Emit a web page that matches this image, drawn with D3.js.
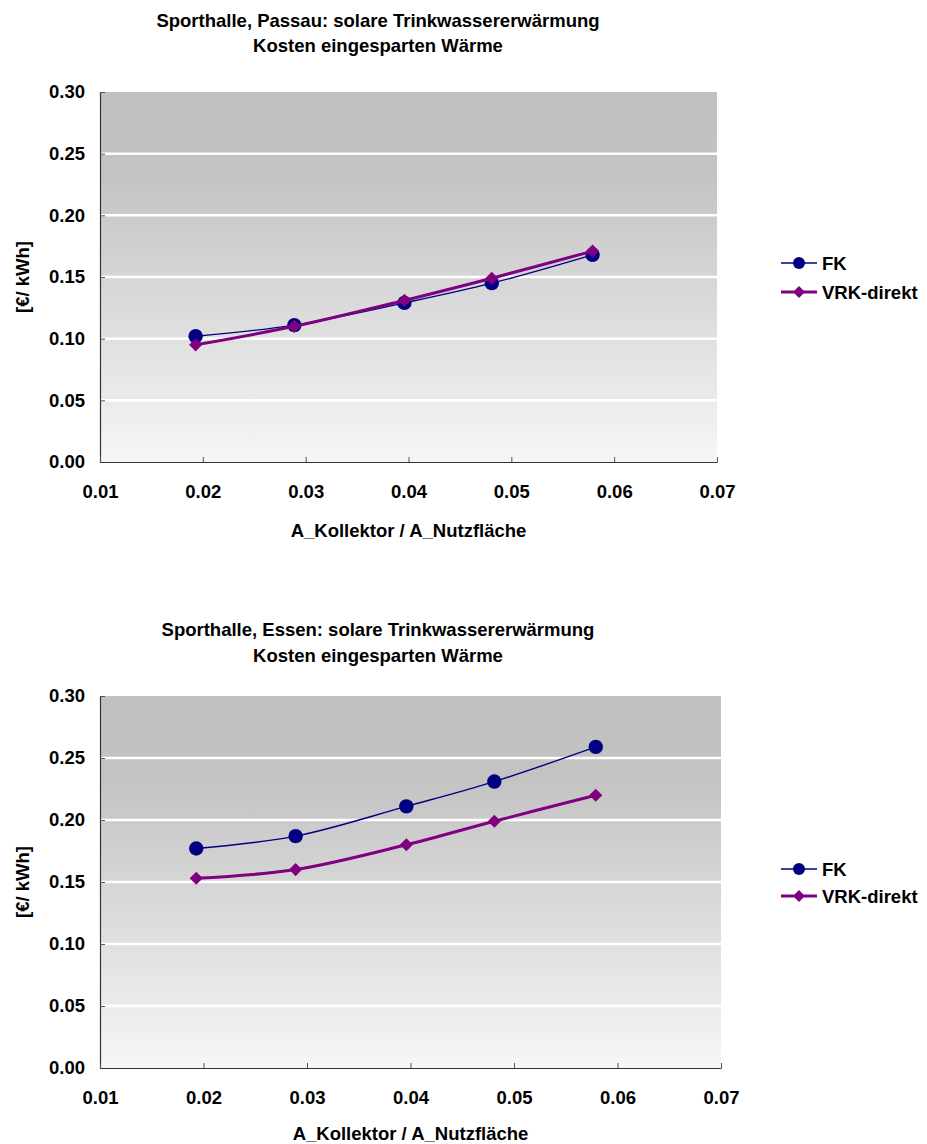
<!DOCTYPE html>
<html>
<head>
<meta charset="utf-8">
<script src="https://cdn.jsdelivr.net/npm/d3@7"></script>
<style>
  html, body { margin: 0; padding: 0; background: #ffffff; }
  svg text { font-family: "Liberation Sans", Arial, sans-serif; font-weight: bold; fill: #000; }
</style>
</head>
<body>
<svg id="chart" width="927" height="1144"></svg>
<script>
// Collector-to-floor area ratio for the five system sizes
const areaRatio = [0.0193, 0.0289, 0.0396, 0.0481, 0.0579];

// Cost of saved heat [€/kWh], Passau
const passauFK  = [0.102, 0.111, 0.129, 0.145, 0.168];
const passauVRK = [0.095, 0.110, 0.131, 0.149, 0.171];

// Cost of saved heat [€/kWh], Essen
const essenFK  = [0.177, 0.187, 0.211, 0.231, 0.259];
const essenVRK = [0.153, 0.160, 0.180, 0.199, 0.220];

const xTicks = [0.01, 0.02, 0.03, 0.04, 0.05, 0.06, 0.07];
const yTicks = [0.00, 0.05, 0.10, 0.15, 0.20, 0.25, 0.30];

const seriesNames = ["FK", "VRK-direkt"];
const titlesPassau = ["Sporthalle, Passau: solare Trinkwassererwärmung", "Kosten eingesparten Wärme"];
const titlesEssen  = ["Sporthalle, Essen: solare Trinkwassererwärmung", "Kosten eingesparten Wärme"];
const xTitle = "A_Kollektor / A_Nutzfläche";
const yTitle = "[€/ kWh]";

const svg = d3.select("#chart");
const FS = 18.5;

function drawPanel(cfg) {
  const { top, bottom, left, right, titles, titleY, fk, vrk, legendY, xLabelY, yLabelY, gid } = cfg;
  const x = d3.scaleLinear().domain([0.01, 0.07]).range([left, right]);
  const y = d3.scaleLinear().domain([0, 0.30]).range([bottom, top]);

  // plot background gradient
  const grad = svg.append("defs").append("linearGradient")
    .attr("id", gid).attr("x1", 0).attr("y1", 0).attr("x2", 0).attr("y2", 1);
  grad.append("stop").attr("offset", 0).attr("stop-color", "#c0c0c0");
  grad.append("stop").attr("offset", 0.22).attr("stop-color", "#c3c3c3");
  grad.append("stop").attr("offset", 1).attr("stop-color", "#f6f6f6");

  svg.append("rect")
    .attr("x", left).attr("y", top)
    .attr("width", right - left).attr("height", bottom - top)
    .attr("fill", `url(#${gid})`);

  // horizontal gridlines
  svg.append("g").selectAll("line")
    .data(yTicks.filter(v => v > 0 && v < 0.30))
    .join("line")
    .attr("x1", left).attr("x2", right)
    .attr("y1", d => y(d)).attr("y2", d => y(d))
    .attr("stroke", "#ffffff").attr("stroke-width", 2.5);

  // axes
  const yAxis = d3.axisLeft(y).tickValues(yTicks).tickFormat(d3.format(".2f"))
    .tickSizeInner(-5).tickSizeOuter(0).tickPadding(15);
  const gy = svg.append("g").attr("transform", `translate(${left},0)`).call(yAxis);
  gy.select(".domain").attr("stroke", "#333").attr("stroke-width", 1.2);
  gy.selectAll(".tick line").attr("stroke", "#555");
  gy.selectAll("text").style("font-size", FS + "px");

  const xAxis = d3.axisBottom(x).tickValues(xTicks).tickFormat(d3.format(".2f"))
    .tickSizeInner(-5).tickSizeOuter(0).tickPadding(23);
  const gx = svg.append("g").attr("transform", `translate(0,${bottom})`).call(xAxis);
  gx.select(".domain").attr("stroke", "#333").attr("stroke-width", 1.2);
  gx.selectAll(".tick line").attr("stroke", "#555");
  gx.selectAll("text").style("font-size", FS + "px");

  // titles
  const cx = 378;
  titles.forEach((t, i) => {
    svg.append("text").attr("x", cx).attr("y", titleY[i])
      .attr("text-anchor", "middle").attr("dominant-baseline", "central")
      .style("font-size", FS + "px").text(t);
  });

  svg.append("text").attr("x", (left + right) / 2).attr("y", xLabelY)
    .attr("text-anchor", "middle").attr("dominant-baseline", "central")
    .style("font-size", FS + "px").text(xTitle);

  svg.append("text")
    .attr("transform", `translate(22,${yLabelY}) rotate(-90)`)
    .attr("text-anchor", "middle").attr("dominant-baseline", "central")
    .style("font-size", FS + "px").text(yTitle);

  // series
  const line = d3.line().x(d => x(d[0])).y(d => y(d[1])).curve(d3.curveCatmullRom.alpha(0.5));
  const fkPts = areaRatio.map((a, i) => [a, fk[i]]);
  const vrkPts = areaRatio.map((a, i) => [a, vrk[i]]);

  svg.append("path").attr("d", line(fkPts)).attr("fill", "none")
    .attr("stroke", "#000080").attr("stroke-width", 1.4);
  svg.append("g").selectAll("circle").data(fkPts).join("circle")
    .attr("cx", d => x(d[0])).attr("cy", d => y(d[1])).attr("r", 7.2)
    .attr("fill", "#000080");

  svg.append("path").attr("d", line(vrkPts)).attr("fill", "none")
    .attr("stroke", "#800080").attr("stroke-width", 3);
  const diamond = d3.symbol().type(d3.symbolDiamond2).size(110);
  svg.append("g").selectAll("path").data(vrkPts).join("path")
    .attr("transform", d => `translate(${x(d[0])},${y(d[1])})`)
    .attr("d", diamond).attr("fill", "#800080");

  // legend
  const lg = svg.append("g");
  const lx0 = 781, lx1 = 817, lm = 799;
  // FK
  lg.append("line").attr("x1", lx0).attr("x2", lx1).attr("y1", legendY[0]).attr("y2", legendY[0])
    .attr("stroke", "#000080").attr("stroke-width", 1.4);
  lg.append("circle").attr("cx", lm).attr("cy", legendY[0]).attr("r", 6).attr("fill", "#000080");
  lg.append("text").attr("x", 822).attr("y", legendY[0]).attr("dominant-baseline", "central")
    .style("font-size", FS + "px").text(seriesNames[0]);
  // VRK-direkt
  lg.append("line").attr("x1", lx0).attr("x2", lx1).attr("y1", legendY[1]).attr("y2", legendY[1])
    .attr("stroke", "#800080").attr("stroke-width", 3);
  lg.append("path").attr("transform", `translate(${lm},${legendY[1]})`)
    .attr("d", d3.symbol().type(d3.symbolDiamond2).size(90)).attr("fill", "#800080");
  lg.append("text").attr("x", 822).attr("y", legendY[1]).attr("dominant-baseline", "central")
    .style("font-size", FS + "px").text(seriesNames[1]);
}

drawPanel({
  top: 92, bottom: 462, left: 100, right: 717,
  titles: titlesPassau, titleY: [20, 45],
  fk: passauFK, vrk: passauVRK,
  legendY: [263, 292], xLabelY: 530, yLabelY: 277, gid: "bgPassau"
});

drawPanel({
  top: 696, bottom: 1068, left: 100, right: 721,
  titles: titlesEssen, titleY: [629, 655],
  fk: essenFK, vrk: essenVRK,
  legendY: [869, 896], xLabelY: 1133, yLabelY: 882, gid: "bgEssen"
});
</script>
</body>
</html>
